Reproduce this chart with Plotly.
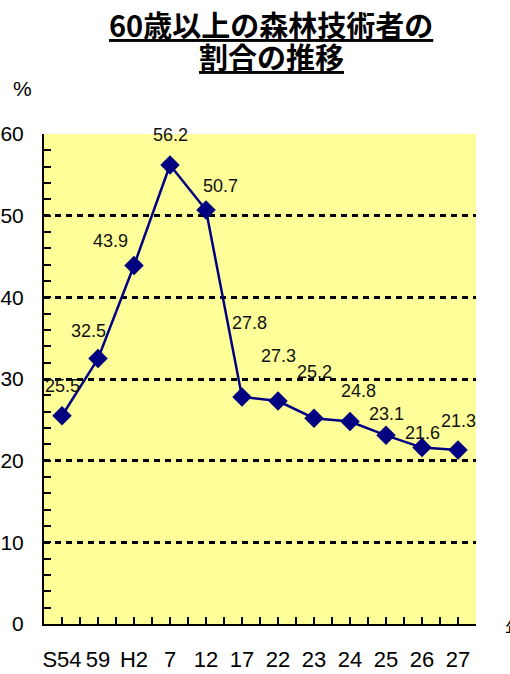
import plotly.graph_objects as go

# 調査年（昭和・平成）と60歳以上の割合（%）
years = ["S54", "59", "H2", "7", "12", "17", "22", "23", "24", "25", "26", "27"]
share_60plus = [25.5, 32.5, 43.9, 56.2, 50.7, 27.8, 27.3, 25.2, 24.8, 23.1, 21.6, 21.3]
y_ticks = [0, 10, 20, 30, 40, 50, 60]
title_lines = ["60歳以上の森林技術者の", "割合の推移"]

# ラベルの位置調整（px）
label_dx = [0, -10, -24, 0, 14, 7, 0, 0, 8, 0, 0, 0]
label_dy = [30, 28, 24, 30, 24, 74, 45, 46, 30, 21, 15, 29]

xpos = list(range(len(years)))
NUM_FONT = "Liberation Sans, Arial, sans-serif"
JP_FONT = "Noto Sans CJK JP, sans-serif"
PLOT_W, PLOT_H, TOP = 432, 490, 134


def paper_x(px):
    return (px - 44) / PLOT_W


def paper_y(py):
    return 1 + (TOP - py) / PLOT_H


fig = go.Figure()
fig.add_trace(go.Scatter(
    x=xpos, y=share_60plus, mode="lines+markers",
    line=dict(color="#000080", width=2.5),
    marker=dict(symbol="diamond", size=15, color="#000080"),
    hoverinfo="skip", showlegend=False,
))

for x, v, dx, dy in zip(xpos, share_60plus, label_dx, label_dy):
    fig.add_annotation(x=x, y=v, text=f"{v:.1f}", showarrow=False,
                       xshift=dx, yshift=dy,
                       font=dict(family=NUM_FONT, size=18, color="#111"))

# 見出し（2行・下線付き）
for line, cy in zip(title_lines, [24, 56]):
    fig.add_annotation(xref="paper", yref="paper", x=paper_x(271), y=paper_y(cy),
                       xanchor="center", yanchor="middle", showarrow=False,
                       text=f'<b><span style="text-decoration:underline">{line}</span></b>',
                       font=dict(family=JP_FONT, size=29, color="#000"))

fig.add_annotation(xref="paper", yref="paper", x=paper_x(11), y=paper_y(88),
                   xanchor="left", yanchor="middle", text="%", showarrow=False,
                   font=dict(family=NUM_FONT, size=21, color="#000"))
fig.add_annotation(xref="paper", yref="paper", x=paper_x(503), y=paper_y(627),
                   xanchor="left", yanchor="middle", text="年", showarrow=False,
                   font=dict(family=JP_FONT, size=19, color="#000"))

fig.update_layout(
    width=510, height=674,
    margin=dict(l=44, r=34, t=134, b=50),
    paper_bgcolor="white", plot_bgcolor="#FFFF99",
    xaxis=dict(
        range=[-0.5, len(years) - 0.5], automargin=False,
        tickmode="array", tickvals=xpos, ticktext=years,
        ticks="inside", ticklen=7, tickwidth=2, tickcolor="#000",
        minor=dict(dtick=0.5, tick0=-0.5, ticks="inside", ticklen=7,
                   tickwidth=2, tickcolor="#000"),
        showline=True, linecolor="#000", linewidth=2,
        showgrid=False, zeroline=False,
        ticklabelstandoff=15,
        tickfont=dict(family=NUM_FONT, size=22, color="#000"),
    ),
    yaxis=dict(
        range=[0, 60], automargin=False,
        tickmode="array", tickvals=y_ticks,
        ticks="inside", ticklen=7, tickwidth=2, tickcolor="#000",
        minor=dict(dtick=2, ticks="inside", ticklen=7, tickwidth=2,
                   tickcolor="#000", showgrid=False),
        showline=True, linecolor="#000", linewidth=2,
        showgrid=True, gridcolor="#000", gridwidth=2.5, griddash="6px,5px",
        zeroline=False,
        ticklabelstandoff=14,
        tickfont=dict(family=NUM_FONT, size=21, color="#000"),
    ),
)

fig.write_html("out.html")
